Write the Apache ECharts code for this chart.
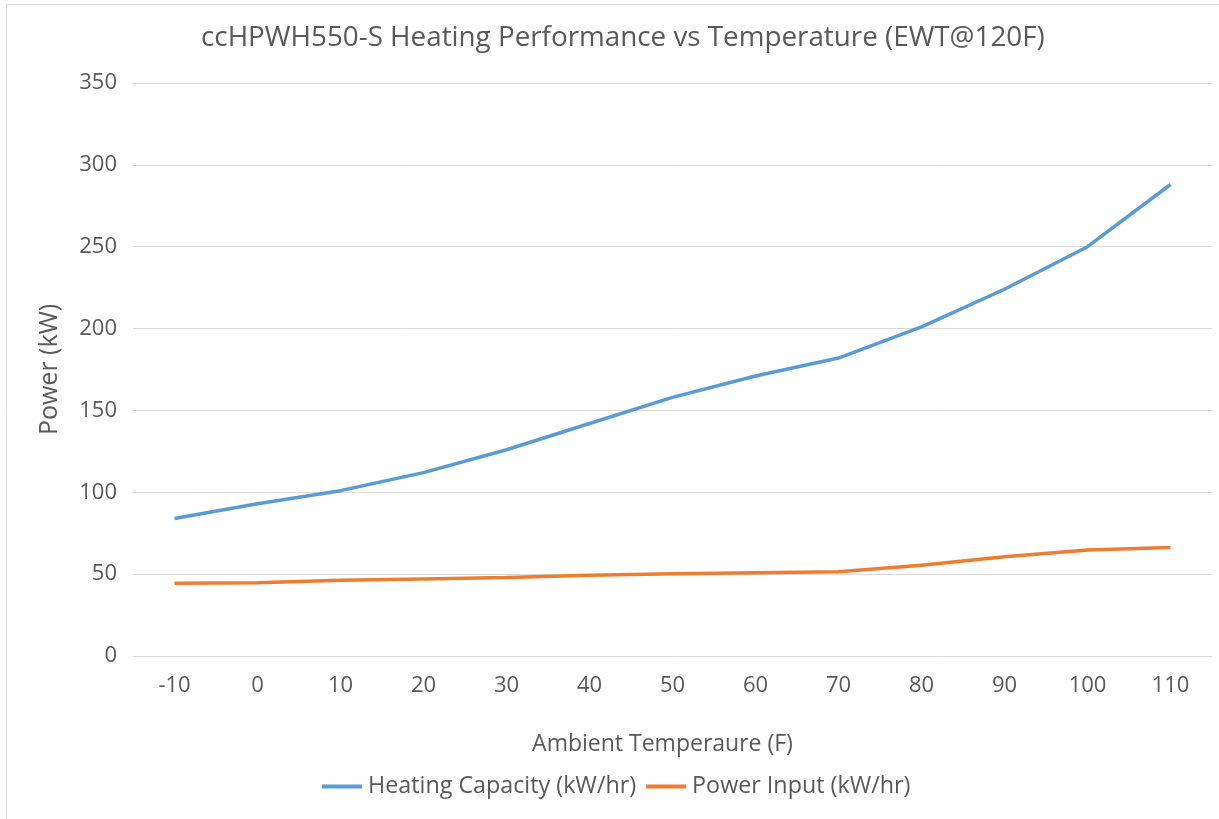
<!DOCTYPE html>
<html>
<head>
<meta charset="utf-8">
<style>html,body{margin:0;padding:0;background:#fff}#c{width:1219px;height:819px}</style>
<script src="https://cdn.jsdelivr.net/npm/echarts@6/dist/echarts.min.js"></script>
</head>
<body>
<div id="c"></div>
<script>
const categories = ['-10','0','10','20','30','40','50','60','70','80','90','100','110'];
const heatingCapacity = [84, 93, 101, 112, 126, 142, 158, 171, 182, 201, 224, 250, 288];
const powerInput = [44.5, 44.8, 46.2, 47.1, 48, 49.3, 50.2, 50.8, 51.4, 55.5, 60.6, 64.8, 66.2];
const seriesNames = ['Heating Capacity (kW/hr)', 'Power Input (kW/hr)'];
const titleText = 'ccHPWH550-S Heating Performance vs Temperature (EWT@120F)';

const FONT = 'Open Sans';
const TXT = '#595959';
const chart = echarts.init(document.getElementById('c'));
chart.setOption({
  backgroundColor: '#fff',
  animation: false,
  title: {
    text: titleText, left: 196, top: 19,
    textStyle: {fontFamily: FONT, fontSize: 27.8, fontWeight: 'normal', color: TXT}
  },
  legend: {
    bottom: 16, left: 317, itemWidth: 40, itemHeight: 4, itemGap: 10,
    icon: 'rect',
    textStyle: {fontFamily: FONT, fontSize: 23.3, color: TXT, padding: [0, 0, 0, 1]},
    data: seriesNames
  },
  grid: {left: 133, right: 7, top: 83, bottom: 163, containLabel: false},
  xAxis: {
    type: 'category', data: categories, boundaryGap: true,
    name: 'Ambient Temperaure (F)', nameLocation: 'middle', nameGap: 77,
    nameTextStyle: {fontFamily: FONT, fontSize: 23, color: TXT, padding: [0, 20, 0, 0]},
    axisLine: {show: true, lineStyle: {color: '#d9d9d9', width: 1}},
    axisTick: {show: false},
    axisLabel: {fontFamily: FONT, fontSize: 22, color: TXT, margin: 19}
  },
  yAxis: {
    type: 'value', min: 0, max: 350, interval: 50,
    name: 'Power (kW)', nameLocation: 'middle', nameGap: 71, nameRotate: 90,
    nameTextStyle: {fontFamily: FONT, fontSize: 25, color: TXT},
    axisLine: {show: false}, axisTick: {show: false},
    splitLine: {lineStyle: {color: '#d9d9d9', width: 1}},
    axisLabel: {fontFamily: FONT, fontSize: 22, color: TXT, margin: 16}
  },
  series: [
    {name: seriesNames[0], type: 'line', data: heatingCapacity, symbol: 'none',
     lineStyle: {color: '#5b9bd5', width: 3.5}, itemStyle: {color: '#5b9bd5'}},
    {name: seriesNames[1], type: 'line', data: powerInput, symbol: 'none',
     lineStyle: {color: '#ed7d31', width: 3.5}, itemStyle: {color: '#ed7d31'}}
  ],
  graphic: [
    {type: 'line', shape: {x1: 6.5, y1: 4.5, x2: 1219, y2: 4.5}, style: {stroke: '#d9d9d9', lineWidth: 1}},
    {type: 'line', shape: {x1: 6.5, y1: 4.5, x2: 6.5, y2: 819}, style: {stroke: '#d9d9d9', lineWidth: 1}}
  ]
});
</script>
</body>
</html>
